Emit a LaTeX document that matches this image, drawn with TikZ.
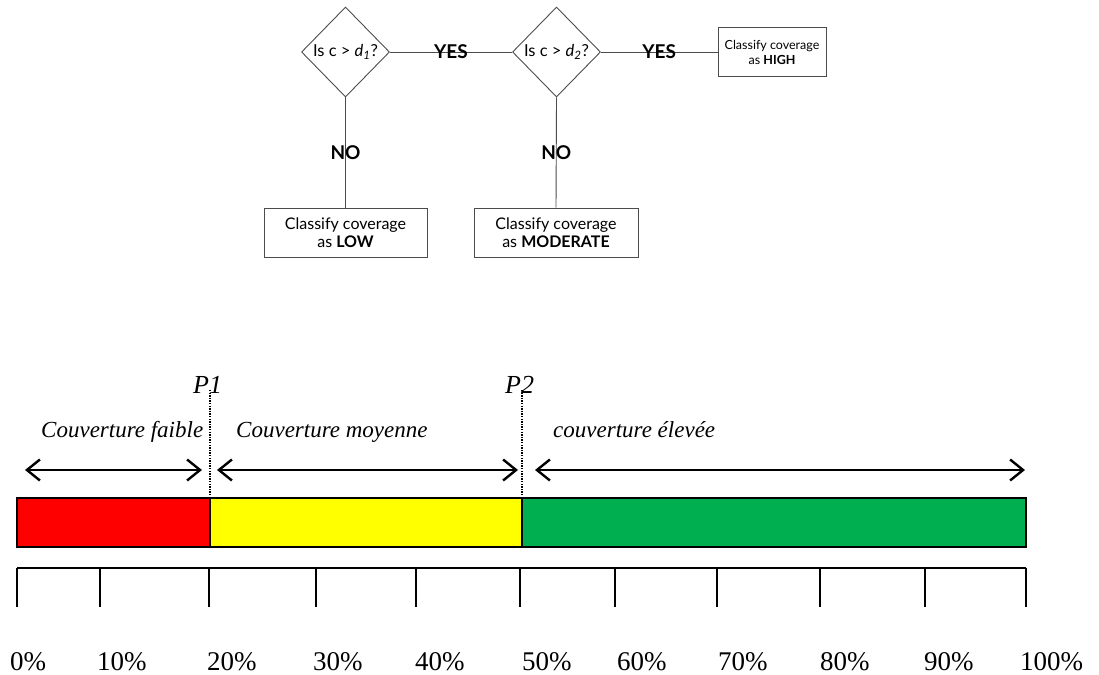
\documentclass[tikz,border=0pt]{standalone}
\usepackage{fontspec}
\setmainfont{Liberation Serif}
\newfontfamily\gill{Lato}
\usetikzlibrary{shapes.geometric,arrows.meta}

\definecolor{balkenrot}{RGB}{255,0,0}
\definecolor{balkengelb}{RGB}{255,255,0}
\definecolor{balkengruen}{RGB}{0,176,80}

\tikzset{
	entscheid/.style={diamond, draw=black!70, line width=0.9pt, minimum width=88pt, minimum height=90pt, inner sep=0pt, font=\gill\fontsize{16.5}{18}\selectfont},
	klasse/.style={draw=black!70, line width=0.9pt, minimum height=49pt, inner sep=0pt, align=center, font=\gill\fontsize{16}{18}\selectfont},
	verb/.style={draw=black!70, line width=0.9pt},
	antwort/.style={font=\gill\bfseries\fontsize{19}{21}\selectfont, inner sep=0pt},
	bereich/.style={font=\itshape\fontsize{23}{26}\selectfont, inner sep=0pt, anchor=base west},
	grenze/.style={line width=1.3pt, dash pattern=on 1.3pt off 1.3pt},
	spanne/.style={line width=2.4pt, {Straight Barb[length=13pt,width=21pt,line width=2.4pt]}-{Straight Barb[length=13pt,width=21pt,line width=2.4pt]}}
}

\begin{document}
\begin{tikzpicture}[x=1pt,y=-1pt]
		\useasboundingbox (0,0) rectangle (1099,674);

		% Entscheidungsbaum
		\node[entscheid] (d1) at (345.5,52) {Is c > \textit{d}\textsubscript{\textit{1}}?};
		\node[entscheid] (d2) at (556.5,52) {Is c > \textit{d}\textsubscript{\textit{2}}?};
		\node[klasse, minimum width=108pt, font=\gill\fontsize{12.5}{15}\selectfont] (hoch) at (772,52) {Classify coverage\\as \textbf{HIGH}};
		\node[klasse, minimum width=163pt] (niedrig) at (345.5,232.5) {Classify coverage\\as \textbf{LOW}};
		\node[klasse, minimum width=164pt] (mittel) at (556,232.5) {Classify coverage\\as \textbf{MODERATE}};

		\draw[verb] (d1.east) -- node[antwort]{YES} (d2.west);
		\draw[verb] (d2.east) -- node[antwort]{YES} (hoch.west);
		\draw[verb] (d1.south) -- node[antwort]{NO} (niedrig.north);
		\draw[verb] (d2.south) -- node[antwort]{NO} (mittel.north);

		% Koordinaten
		\coordinate (a) at (17,498);
		\coordinate (p1) at (210,498);
		\coordinate (p2) at (522,498);
		\coordinate (b) at (1026,547);

		% Balken
		\fill[balkenrot] (a) rectangle (210,547);
		\fill[balkengelb] (p1) rectangle (522,547);
		\fill[balkengruen] (p2) rectangle (b);
		\draw[line width=1.8pt] (p1) -- (210,547);
		\draw[line width=1.8pt] (p2) -- (522,547);
		\draw[line width=2.6pt] (a) rectangle (b);

		% Grenzen
		\draw[grenze] (210,390) -- (p1);
		\draw[grenze] (522,390) -- (p2);
		\node[font=\itshape\fontsize{26}{28}\selectfont, inner sep=0pt, anchor=base west] (t1) at (193,393) {P1};
		\node[font=\itshape\fontsize{26}{28}\selectfont, inner sep=0pt, anchor=base west] (t2) at (505,393) {P2};

		% Bereiche
		\node[bereich] (faible) at (41,437) {Couverture faible};
		\node[bereich] (moyenne) at (236,437) {Couverture moyenne};
		\node[bereich] (elevee) at (553,437) {couverture élevée};
		\draw[spanne] (25,470) -- (202,470);
		\draw[spanne] (217,470) -- (518,470);
		\draw[spanne] (535,470) -- (1025,470);

		% Skala
		\draw[line width=1.5pt] (17,568) -- (1026,568);
		\foreach \x in {17,100,209,316,416,520,615,717,820,925,1026}
			\draw[line width=1.5pt] (\x,568) -- (\x,607);
		\foreach \x/\p in {10/0,97/10,207/20,313/30,415/40,522/50,617/60,718/70,820/80,924/90,1020/100}
			\node[font=\fontsize{27}{30}\selectfont, inner sep=0pt, anchor=base west] (s\p) at (\x,670) {\p\%};
	\end{tikzpicture}
\end{document}
